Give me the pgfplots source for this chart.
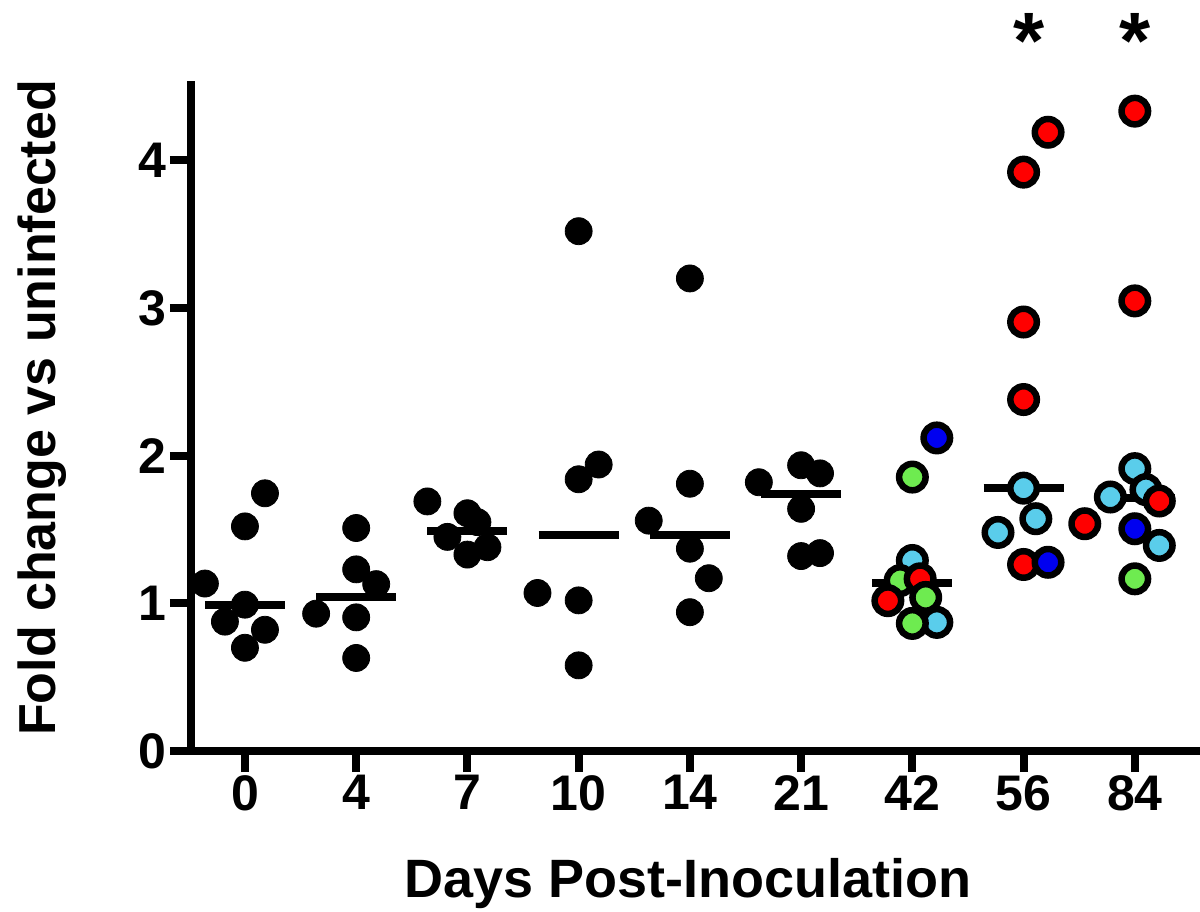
\documentclass[border=0pt]{standalone}
\usepackage{pgfplots}
\pgfplotsset{compat=1.18}
\usepackage{fontspec}
\setmainfont{Liberation Sans}
\definecolor{redpt}{RGB}{255,0,0}
\definecolor{greenpt}{RGB}{110,235,80}
\definecolor{cyanpt}{RGB}{90,205,235}
\definecolor{bluept}{RGB}{0,0,240}
\begin{document}
\begin{tikzpicture}
\begin{axis}[
  scale only axis, width=502.5pt, height=333pt,
  xmin=-0.485, xmax=8.55, ymin=0, ymax=4.51,
  axis x line*=bottom, axis y line*=left,
  axis line style={line width=4pt, line cap=rect},
  xtick={0,...,8}, xticklabels={0,4,7,10,14,21,42,56,84},
  ytick={0,1,2,3,4},
  tick align=outside, major tick length=10.5pt,
  tick style={line width=4pt, black},
  /pgf/number format/assume math mode=true,
  tick label style={font=\fontsize{25}{25}\selectfont\bfseries, inner sep=1.5pt},
  xlabel={Days Post-Inoculation}, ylabel={Fold change vs uninfected},
  every axis x label/.style={at={(axis description cs:0.495,-0.22)}, anchor=base, font=\fontsize{27}{28}\selectfont\bfseries},
  every axis y label/.style={at={(axis description cs:-0.148,0.515)}, anchor=center, rotate=90, font=\fontsize{26}{28}\selectfont\bfseries},
  clip=false,
  blk/.style={only marks, mark=*, mark size=6.75pt, mark options={fill=black, draw=none}},
  col/.style={only marks, mark=*, mark size=6.625pt, mark options={fill=#1, draw=black, line width=3.25pt}},
  med/.style={line width=4pt, black, no marks},
]
\coordinate (SW) at (rel axis cs:0,0);
\coordinate (NE) at (rel axis cs:1,1);
% median lines
\addplot[med] coordinates {(-0.36,0.99) (0.36,0.99)};
\addplot[med] coordinates {(0.64,1.04) (1.36,1.04)};
\addplot[med] coordinates {(1.64,1.49) (2.36,1.49)};
\addplot[med] coordinates {(2.64,1.46) (3.36,1.46)};
\addplot[med] coordinates {(3.64,1.465) (4.36,1.465)};
\addplot[med] coordinates {(4.64,1.74) (5.36,1.74)};
\addplot[med] coordinates {(5.64,1.135) (6.36,1.135)};
\addplot[med] coordinates {(6.64,1.78) (7.36,1.78)};
\addplot[med] coordinates {(7.64,1.71) (8.36,1.71)};
% black points, days 0-21
\addplot[blk] coordinates {
 (-0.36,1.134) (0.18,1.745) (0,1.521) (0,0.991) (-0.18,0.876) (0.18,0.821) (0,0.699)
 (0.64,0.93) (1,1.51) (1,1.23) (1.18,1.13) (1,0.905) (1,0.63)
 (1.64,1.69) (2,1.61) (2.09,1.55) (1.82,1.45) (2.18,1.38) (2,1.33)
 (3,3.52) (3.18,1.94) (3,1.84) (2.63,1.07) (3,1.02) (3,0.58)
 (4,3.20) (4,1.81) (3.63,1.56) (4,1.37) (4.17,1.17) (4,0.94)
 (4.62,1.82) (5,1.935) (5.17,1.88) (5,1.64) (5,1.32) (5.17,1.34)
};
% day 42
\addplot[col=cyanpt] coordinates {(6,1.29) (6.22,0.871)};
\addplot[col=greenpt] coordinates {(6,1.855) (5.89,1.154) (6,0.864)};
\addplot[col=redpt] coordinates {(6.07,1.166) (5.78,1.018)};
\addplot[col=greenpt] coordinates {(6.12,1.04)};
\addplot[col=bluept] coordinates {(6.22,2.12)};
% day 56
\addplot[col=redpt] coordinates {(7.22,4.19) (7,3.92) (7,2.905) (7,2.38) (7,1.263)};
\addplot[col=cyanpt] coordinates {(7,1.78) (7.11,1.573) (6.77,1.48)};
\addplot[col=bluept] coordinates {(7.22,1.278)};
% day 84
\addplot[col=redpt] coordinates {(8,4.333) (8,3.048) (7.55,1.539)};
\addplot[col=cyanpt] coordinates {(7.78,1.72) (8,1.912) (8.1,1.77)};
\addplot[col=redpt] coordinates {(8.22,1.693)};
\addplot[col=bluept] coordinates {(8,1.505)};
\addplot[col=cyanpt] coordinates {(8.22,1.392)};
\addplot[col=greenpt] coordinates {(8,1.166)};
% significance
\node[font=\fontsize{40}{40}\selectfont\bfseries, anchor=center] at (axis cs:7.05,4.81) {*};
\node[font=\fontsize{40}{40}\selectfont\bfseries, anchor=center] at (axis cs:8,4.81) {*};
\end{axis}
\pgfresetboundingbox
\path[use as bounding box] ([shift={(-95.5pt,-80pt)}]SW) rectangle ([shift={(2pt,42.5pt)}]NE);
\end{tikzpicture}
\end{document}
